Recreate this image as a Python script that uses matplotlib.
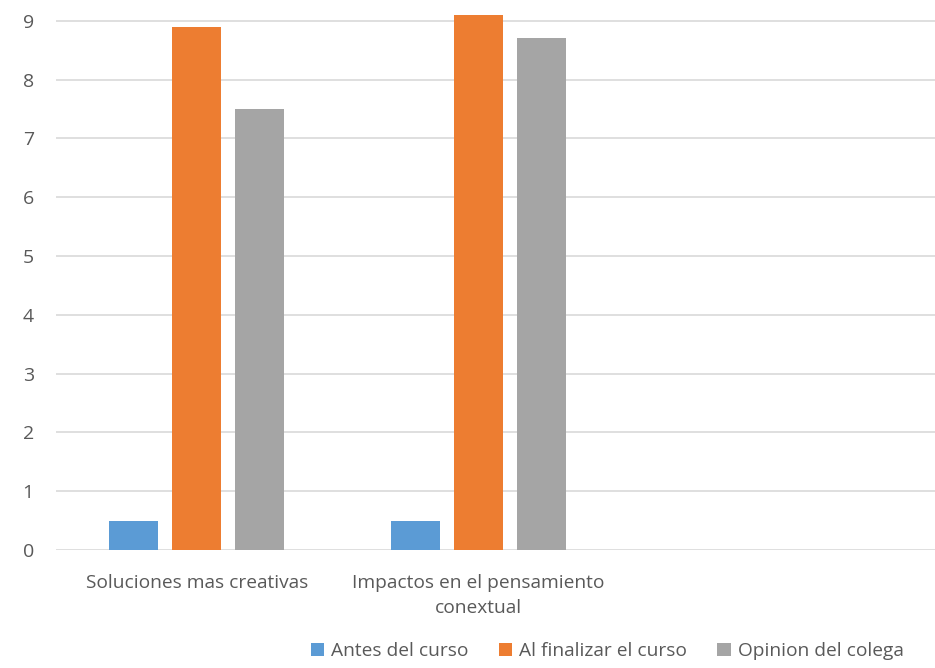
import matplotlib.pyplot as plt
import numpy as np

plt.rcParams['font.family'] = ['Open Sans', 'DejaVu Sans']

categories = ['Soluciones mas creativas', 'Impactos en el pensamiento\nconextual']
series_names = ['Antes del curso', 'Al finalizar el curso', 'Opinion del colega']
antes = [0.5, 0.5]
al_finalizar = [8.9, 9.1]
opinion = [7.5, 8.7]

colors = ['#5B9BD5', '#ED7D31', '#A5A5A5']
text_color = '#595959'

fig = plt.figure(figsize=(9.35, 6.68), dpi=100)
ax = fig.add_axes([56 / 935, 1 - 550 / 668, 1 - 56 / 935, 550 / 668])

x = np.arange(len(categories))
step = 63 / 281.5
width = 49 / 281.5
for i, (vals, name) in enumerate(zip([antes, al_finalizar, opinion], series_names)):
    ax.bar(x + (i - 1) * step, vals, width, color=colors[i], label=name, zorder=3)

ax.set_xlim(-0.5, 2.62)
ax.set_ylim(0, 550 / 58.81)
ax.set_yticks(range(0, 10))
ax.set_xticks(x)
ax.set_xticklabels(categories, color=text_color, fontsize=13.8, linespacing=1.55)
ax.tick_params(axis='x', length=0, pad=17)
ax.tick_params(axis='y', length=0, pad=16, labelcolor=text_color, labelsize=14)
ax.grid(axis='y', color='#D9D9D9', linewidth=1.2, zorder=0)
for s in ax.spines.values():
    s.set_visible(False)

fig.legend(loc='center', bbox_to_anchor=(607 / 935, 1 - 651 / 668), ncol=3, frameon=False,
           fontsize=13.8, labelcolor=text_color, handlelength=0.7, handleheight=0.7,
           handletextpad=0.35, columnspacing=1.6)

fig.savefig('out.png', dpi=100)
